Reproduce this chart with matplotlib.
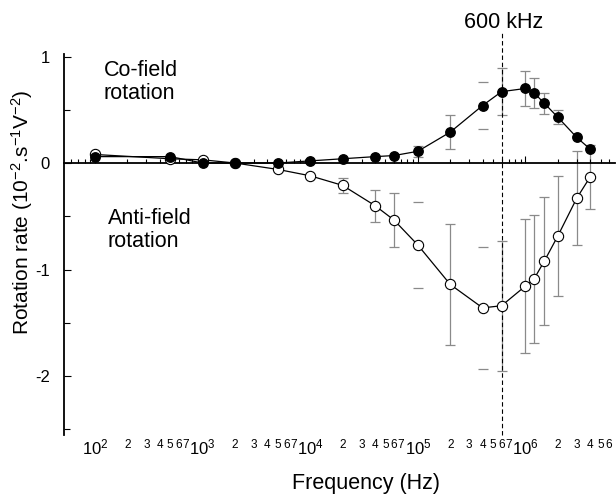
import numpy as np
import matplotlib
matplotlib.use("Agg")
import matplotlib.pyplot as plt
from matplotlib.ticker import LogLocator, NullFormatter, FixedLocator

plt.rcParams['font.family'] = ['Liberation Sans', 'DejaVu Sans']
plt.rcParams['mathtext.fontset'] = 'custom'
plt.rcParams['mathtext.rm'] = 'Liberation Sans'
plt.rcParams['mathtext.it'] = 'Liberation Sans:italic'
plt.rcParams['mathtext.bf'] = 'Liberation Sans:bold'
plt.rcParams['axes.unicode_minus'] = False

# data
freq = [100, 500, 1e3, 2e3, 5e3, 1e4, 2e4, 4e4, 6e4, 1e5, 2e5, 4e5, 6e5,
        1e6, 1.2e6, 1.5e6, 2e6, 3e6, 4e6]
co_rate = [0.06, 0.06, 0.0, 0.0, 0.0, 0.02, 0.04, 0.06, 0.07, 0.11, 0.29,
           0.54, 0.67, 0.70, 0.66, 0.56, 0.43, 0.24, 0.13]
co_err = [0, 0, 0, 0, 0, 0, 0, 0, 0, 0.05, 0.16, 0.22, 0.22, 0.165, 0.14,
          0.10, 0.065, 0, 0]
anti_rate = [0.08, 0.04, 0.03, 0.0, -0.06, -0.12, -0.21, -0.40, -0.535, -0.77,
             -1.14, -1.36, -1.34, -1.155, -1.09, -0.92, -0.685, -0.33, -0.13]
anti_err = [0, 0, 0, 0, 0, 0, 0.07, 0.15, 0.25, 0.40, 0.57, 0.57, 0.61, 0.63,
            0.60, 0.60, 0.56, 0.44, 0.30]
# error bars where only the caps are printed
caps_only_co = [4e5]
caps_only_anti = [1e5, 4e5]

decades = [2, 3, 4, 5, 6]
minor_marks = [2, 3, 4, 5, 6, 7]
marker_freq = 6e5

fig = plt.figure(figsize=(6.16, 4.98), dpi=100)
ax = fig.add_axes([0.1039, 0.1273, 0.8945, 0.7635])
ax.set_xscale('log')
xmin, xmax = 51.5, 6.8e6
ymin, ymax = -2.55, 1.02
ax.set_xlim(xmin, xmax)
ax.set_ylim(ymin, ymax)

ERR_COL = '#8a8a8a'


def draw_err(x, y, e, caps_only):
    x = np.array(x)
    y = np.array(y)
    e = np.array(e)
    m = e > 0
    _, caps, bars = ax.errorbar(x[m], y[m], yerr=e[m], fmt='none', ecolor=ERR_COL,
                                elinewidth=0.9, capsize=3.4, capthick=0.9, zorder=1)
    cols = ['none' if xi in caps_only else ERR_COL for xi in x[m]]
    bars[0].set_color(cols)


draw_err(freq, anti_rate, anti_err, caps_only_anti)
draw_err(freq, co_rate, co_err, caps_only_co)

ax.plot(freq, anti_rate, '-o', color='black', mfc='white', mec='black', ms=7.4,
        mew=0.8, lw=0.9, zorder=3)
ax.plot(freq, co_rate, '-o', color='black', ms=6.8, lw=0.9, zorder=4)

# 600 kHz marker
ax.plot([marker_freq, marker_freq], [ymin, 1.22], color='black', lw=0.8,
        ls=(0, (4, 2.5)), clip_on=False, zorder=2)
ax.text(6.3e5, 1.268, '600 kHz', ha='center', va='baseline', fontsize=15.5)

ax.text(120, 0.97, 'Co-field\nrotation', ha='left', va='top', fontsize=15.5,
        linespacing=1.15)
ax.text(132, -0.42, 'Anti-field\nrotation', ha='left', va='top', fontsize=15.5,
        linespacing=1.15)

# axes styling
for s in ['top', 'right']:
    ax.spines[s].set_visible(False)
ax.spines['bottom'].set_position(('data', 0))
ax.spines['bottom'].set_linewidth(1.3)
ax.spines['left'].set_linewidth(1.3)

ax.xaxis.set_major_locator(LogLocator(base=10, numticks=12))
ax.xaxis.set_minor_locator(LogLocator(base=10, subs=np.arange(2, 10), numticks=12))
ax.xaxis.set_minor_formatter(NullFormatter())
ax.tick_params(axis='x', which='both', direction='in', labelbottom=False, width=0.8)
ax.tick_params(axis='x', which='major', length=5)
ax.tick_params(axis='x', which='minor', length=3)

ax.yaxis.set_major_locator(FixedLocator([-2, -1, 0, 1]))
ax.yaxis.set_minor_locator(FixedLocator([-2.5, -1.5, -0.5, 0.5]))
ax.set_yticklabels(['-2', '-1', '0', '1'])
ax.tick_params(axis='y', which='both', direction='in', width=0.8, labelsize=12, pad=10)
ax.tick_params(axis='y', which='major', length=5)
ax.tick_params(axis='y', which='minor', length=4)

# frequency labels printed under the plot
for d in decades:
    ax.annotate(r'$10^{%d}$' % d, xy=(10 ** d, 0), xycoords=('data', 'axes fraction'),
                xytext=(0, -14.4), textcoords='offset points', ha='center',
                va='baseline', fontsize=12, annotation_clip=False)
    for m in minor_marks:
        v = m * 10 ** d
        if v > xmax:
            continue
        ax.annotate(str(m), xy=(v, 0), xycoords=('data', 'axes fraction'),
                    xytext=(0, -9.4), textcoords='offset points', ha='center',
                    va='baseline', fontsize=8.5, annotation_clip=False)

fig.text(366 / 616, 1 - 489 / 498, 'Frequency (Hz)', ha='center', va='baseline',
         fontsize=15.5)
fig.text(22 / 616, 1 - 212 / 498, r'Rotation rate (10$^{-2}$.s$^{-1}$V$^{-2}$)',
         rotation=90, ha='center', va='center', fontsize=15)

fig.savefig('out.png', dpi=100)
